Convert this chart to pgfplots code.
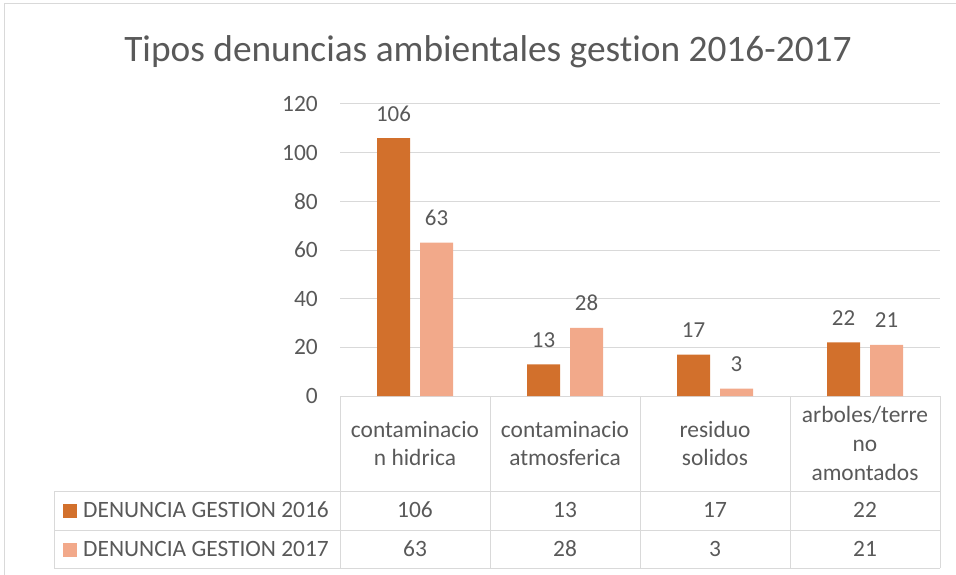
\documentclass[border=0pt]{standalone}
\usepackage{pgfplots}
\pgfplotsset{compat=1.18}
\usepackage{pgfplotstable}
\usepackage{fontspec}
\setmainfont{Carlito}[Ligatures={NoCommon}]
\definecolor{cA}{HTML}{D2702C}
\definecolor{cB}{HTML}{F2A98A}
\definecolor{txt}{HTML}{595959}
\definecolor{grd}{HTML}{D9D9D9}
\pgfplotstableread{
x a b
0 106 63
1 13 28
2 17 3
3 22 21
}\datatable
\begin{document}
\begin{tikzpicture}[x=1bp,y=1bp]
\useasboundingbox (0,-575) rectangle (956,0);
\draw[grd, line width=1bp] (4,-575) -- (4,-4) -- (956,-4);
\node[text=txt, font=\fontsize{37.5}{45}\selectfont, anchor=base, inner sep=0pt] at (488,-62) {Tipos denuncias ambientales gestion 2016-2017};
\begin{axis}[
  at={(340bp,-104bp)}, anchor=north west, scale only axis,
  width=600bp, height=292bp,
  xmin=-0.5, xmax=3.5, ymin=0, ymax=120, clip=false,
  axis line style={draw=none},
  ytick={0,20,...,120}, ymajorgrids, grid style={grd, line width=1bp},
  major tick length=0pt,
  /pgf/number format/assume math mode=true,
  yticklabel style={anchor=east, inner sep=0pt, xshift=-22bp, font=\fontsize{23.5}{28}\selectfont, text=txt},
  xtick={0,1,2,3},
  xticklabels={contaminacio\\n hidrica, contaminacio\\atmosferica, residuo\\solidos, arboles/terre\\no\\amontados},
  xticklabel style={align=center, anchor=center, inner sep=0pt, yshift=-47.5bp, font=\fontsize{23.5}{29}\selectfont, text=txt},
]
\addplot[ybar, bar width=33bp, bar shift=-21.5bp, fill=cA, draw=none,
  nodes near coords, point meta=explicit symbolic,
  every node near coord/.append style={anchor=base, xshift=-21.5bp, yshift=17bp, inner sep=0pt, font=\fontsize{23}{28}\selectfont, text=txt}]
  table[x=x, y=a, meta=a] {\datatable};
\addplot[ybar, bar width=33bp, bar shift=21.5bp, fill=cB, draw=none,
  nodes near coords, point meta=explicit symbolic,
  every node near coord/.append style={anchor=base, xshift=21.5bp, yshift=17bp, inner sep=0pt, font=\fontsize{23}{28}\selectfont, text=txt}]
  table[x=x, y=b, meta=b] {\datatable};
% data table values
\addplot[draw=none, mark=none, nodes near coords, point meta=explicit symbolic,
  every node near coord/.append style={anchor=base, inner sep=0pt, font=\fontsize{23.5}{28}\selectfont, text=txt}]
  table[x=x, y expr=-49.85, meta=a] {\datatable};
\addplot[draw=none, mark=none, nodes near coords, point meta=explicit symbolic,
  every node near coord/.append style={anchor=base, inner sep=0pt, font=\fontsize{23.5}{28}\selectfont, text=txt}]
  table[x=x, y expr=-66.04, meta=b] {\datatable};
\end{axis}
% data table grid
\draw[grd, line width=1bp]
  (340,-396) -- (340,-568)
  (490,-396) -- (490,-568)
  (640,-396) -- (640,-568)
  (790,-396) -- (790,-568)
  (940,-396) -- (940,-568)
  (54,-491) -- (940,-491)
  (54,-530) -- (940,-530)
  (54,-568) -- (940,-568)
  (54,-491) -- (54,-568);
\fill[cA] (63,-503.5) rectangle (77,-517.5);
\fill[cB] (63,-542.5) rectangle (77,-556.5);
\node[anchor=base west, inner sep=0pt, text=txt, font=\fontsize{23.5}{28}\selectfont] at (83,-517.3) {DENUNCIA GESTION 2016};
\node[anchor=base west, inner sep=0pt, text=txt, font=\fontsize{23.5}{28}\selectfont] at (83,-556.7) {DENUNCIA GESTION 2017};
\end{tikzpicture}
\end{document}
